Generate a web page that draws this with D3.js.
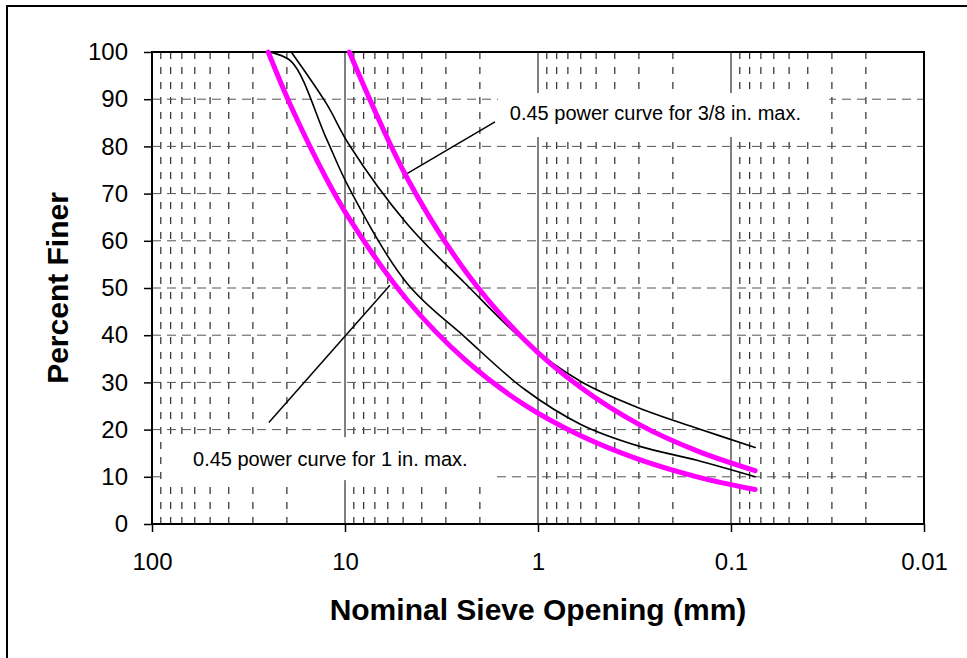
<!DOCTYPE html>
<html>
<head>
<meta charset="utf-8">
<script src="https://cdn.jsdelivr.net/npm/d3@7"></script>
<style>
  body { margin: 0; background: #fff; }
  svg { display: block; font-family: "Liberation Sans", Arial, sans-serif; }
  .tick text { font-size: 24px; fill: #000; }
  .axis-title { font-size: 30px; font-weight: bold; }
  .note { font-size: 20px; }
</style>
</head>
<body>
<div id="chart"></div>
<script>
// sieve sizes (mm)
const sieves1in = [25, 19, 12.5, 9.5, 4.75, 2.36, 1.18, 0.6, 0.3, 0.15, 0.075];
const sieves38 = [9.5, 4.75, 2.36, 1.18, 0.6, 0.3, 0.15, 0.075];
const sievesUpper = [19, 12.5, 9.5, 4.75, 2.36, 1.18, 0.6, 0.3, 0.15, 0.075];

// percent finer
const power1in = [100, 88.4, 73.2, 64.7, 47.4, 34.6, 25.3, 18.7, 13.7, 10.0, 7.3];
const power38 = [100, 73.2, 53.4, 39.1, 28.9, 21.1, 15.5, 11.3];
const lowerBlack = [100, 98, 81.7, 71.1, 50.9, 39.4, 28.6, 21.1, 16.5, 13.5, 10.0];
const upperBlack = [100, 89.1, 80.3, 63.5, 50.8, 38.8, 30.2, 24.6, 20.3, 16.2];

// axis ticks
const xTicks = [100, 10, 1, 0.1, 0.01];
const yTicks = [0, 10, 20, 30, 40, 50, 60, 70, 80, 90, 100];

const width = 967, height = 658;
const margin = {left: 152, right: 43, top: 52, bottom: 134};

const svg = d3.select('#chart').append('svg')
    .attr('width', width)
    .attr('height', height);

const x = d3.scaleLog().domain([100, 0.01]).range([margin.left, width - margin.right]);
const y = d3.scaleLinear().domain([0, 100]).range([height - margin.bottom, margin.top]);

// outer frame (runs off the right and bottom edge)
svg.append('rect')
    .attr('x', 7).attr('y', 6)
    .attr('width', 1000).attr('height', 700)
    .attr('fill', 'none').attr('stroke', '#000').attr('stroke-width', 2);

// minor vertical grid 2..9 in each decade
const minor = [];
[0.01, 0.1, 1, 10].forEach(dec => {
    for (let k = 2; k <= 9; k++) minor.push(+(k * dec).toPrecision(3));
});
const grid = svg.append('g');
grid.selectAll('.minor')
    .data(minor)
    .enter().append('line')
    .attr('x1', d => x(d)).attr('x2', d => x(d))
    .attr('y1', y(100)).attr('y2', y(0))
    .attr('stroke', '#000').attr('stroke-width', 1)
    .attr('stroke-dasharray', '7,8');

// horizontal grid
grid.selectAll('.hgrid')
    .data(yTicks.slice(1, -1))
    .enter().append('line')
    .attr('x1', x(100)).attr('x2', x(0.01))
    .attr('y1', d => y(d)).attr('y2', d => y(d))
    .attr('stroke', '#555').attr('stroke-width', 1)
    .attr('stroke-dasharray', '9,6');

// major vertical grid
grid.selectAll('.major')
    .data([10, 1, 0.1])
    .enter().append('line')
    .attr('x1', d => x(d)).attr('x2', d => x(d))
    .attr('y1', y(100)).attr('y2', y(0))
    .attr('stroke', '#808080').attr('stroke-width', 2);

// label boxes (in data units)
const notes = [
    {text: '0.45 power curve for 3/8 in. max.', box: [1.61, 0.031, 91.3, 82.0], at: [1.40, 85.6],
     lead: [[1.67, 85.2], [4.75, 74.3]]},
    {text: '0.45 power curve for 1 in. max.', box: [87.7, 1.71, 18.4, 9.3], at: [61.3, 12.3],
     lead: [[5.85, 50.6], [24.8, 21.5]]}
];
svg.selectAll('.notebox')
    .data(notes)
    .enter().append('rect')
    .attr('x', d => x(d.box[0]))
    .attr('y', d => y(d.box[2]))
    .attr('width', d => x(d.box[1]) - x(d.box[0]))
    .attr('height', d => y(d.box[3]) - y(d.box[2]))
    .attr('fill', '#fff');

// plot border
svg.append('rect')
    .attr('x', x(100)).attr('y', y(100))
    .attr('width', x(0.01) - x(100)).attr('height', y(0) - y(100))
    .attr('fill', 'none').attr('stroke', '#000').attr('stroke-width', 2);

// axes
const xAxis = svg.append('g')
    .attr('transform', `translate(0,${y(0)})`)
    .call(d3.axisBottom(x).tickValues(xTicks).tickFormat(d => String(d)).tickSize(8).tickPadding(21));
const yAxis = svg.append('g')
    .attr('transform', `translate(${x(100)},0)`)
    .call(d3.axisLeft(y).tickValues(yTicks).tickSize(8).tickPadding(16));
[xAxis, yAxis].forEach(a => {
    a.attr('font-size', null).attr('font-family', null);
    a.select('.domain').remove();
    a.selectAll('.tick line').attr('stroke', '#000').attr('stroke-width', 1.5);
});

// curves
const line = d3.line()
    .x(d => x(d[0]))
    .y(d => y(d[1]))
    .curve(d3.curveCatmullRom.alpha(0.5));

const series = [
    {sizes: sievesUpper, values: upperBlack, color: '#000', w: 1.6},
    {sizes: sieves1in, values: lowerBlack, color: '#000', w: 1.6},
    {sizes: sieves1in, values: power1in, color: '#ff00ff', w: 5},
    {sizes: sieves38, values: power38, color: '#ff00ff', w: 5}
];
svg.selectAll('.curve')
    .data(series)
    .enter().append('path')
    .attr('d', s => line(s.sizes.map((d, i) => [d, s.values[i]])))
    .attr('fill', 'none')
    .attr('stroke', s => s.color)
    .attr('stroke-width', s => s.w)
    .attr('stroke-linecap', 'round')
    .attr('stroke-linejoin', 'round');

// annotations
svg.selectAll('.lead')
    .data(notes)
    .enter().append('line')
    .attr('x1', d => x(d.lead[0][0])).attr('y1', d => y(d.lead[0][1]))
    .attr('x2', d => x(d.lead[1][0])).attr('y2', d => y(d.lead[1][1]))
    .attr('stroke', '#000').attr('stroke-width', 1.5);
svg.selectAll('.note')
    .data(notes)
    .enter().append('text')
    .attr('class', 'note')
    .attr('x', d => x(d.at[0]))
    .attr('y', d => y(d.at[1]))
    .text(d => d.text);

// axis titles
svg.append('text')
    .attr('class', 'axis-title')
    .attr('x', (x(100) + x(0.01)) / 2)
    .attr('y', 620)
    .attr('text-anchor', 'middle')
    .text('Nominal Sieve Opening (mm)');
svg.append('text')
    .attr('class', 'axis-title')
    .attr('transform', `translate(68,${(y(0) + y(100)) / 2}) rotate(-90)`)
    .attr('text-anchor', 'middle')
    .text('Percent Finer');
</script>
</body>
</html>
